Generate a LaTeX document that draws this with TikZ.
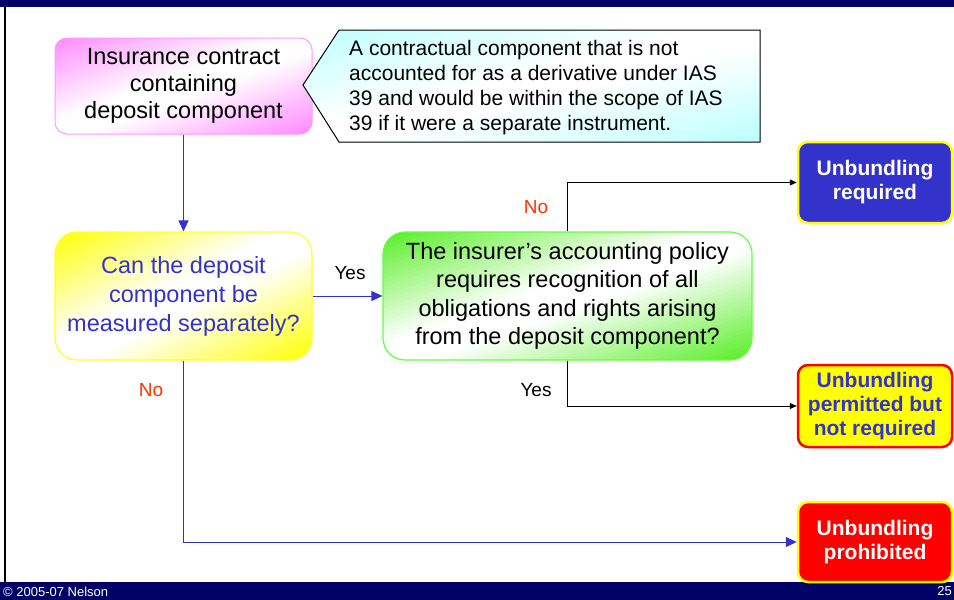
\documentclass[tikz,border=0pt]{standalone}
\usepackage{fontspec}
\setmainfont{Liberation Sans}
\usetikzlibrary{arrows.meta}
\definecolor{navy}{HTML}{000066}
\definecolor{pinkc}{HTML}{FF88FF}
\definecolor{pinkb}{HTML}{FF99FF}
\definecolor{yelc}{HTML}{FFFF00}
\definecolor{yelb}{HTML}{FFFF33}
\definecolor{grnc}{HTML}{55EE22}
\definecolor{grnb}{HTML}{66FF44}
\definecolor{cyac}{HTML}{BBFFFF}
\definecolor{bluec}{HTML}{3333CC}
\definecolor{redt}{HTML}{FF3300}
\definecolor{redc}{HTML}{FF0000}
% diagonal gradient: colour at top-left and bottom-right corners, white in the middle
% #1 colour, #2 cx, #3 cy, #4 half width, #5 half height
\newcommand\diagbands[5]{%
  \foreach \i in {0,...,59}{%
    \pgfmathsetmacro\sa{-2+\i*4/60}%
    \pgfmathsetmacro\sb{\sa+4/60+0.02}%
    \pgfmathsetmacro\tm{abs(\sa+2/60)/2}%
    \pgfmathtruncatemacro\pc{max(0,min(100,(\tm-0.12)/0.88*100))}%
    \fill[#1!\pc!white] ({#2+#4*(\sa+2)},{#3-#5*2}) -- ({#2+#4*(\sb+2)},{#3-#5*2})
       -- ({#2+#4*(\sb-2)},{#3+#5*2}) -- ({#2+#4*(\sa-2)},{#3+#5*2}) -- cycle;
  }}
\tikzset{
  flowbox/.style={align=center, inner sep=0pt},
  endbox/.style={align=center, inner sep=0pt, minimum width=154pt, rounded corners=10pt, line width=2.5pt,
    font=\fontsize{21}{24}\selectfont\bfseries},
  bluearrow/.style={draw=bluec, line width=1pt, -{Triangle[length=11pt,width=10pt]}},
  blackarrow/.style={draw=black, line width=0.9pt, -{Triangle[length=7pt,width=6pt]}},
  lbl/.style={font=\fontsize{19}{22}\selectfont, inner sep=0pt},
}
\begin{document}
\begin{tikzpicture}[x=1pt,y=-1pt]
\useasboundingbox (0,0) rectangle (954,600);
\fill[white] (0,0) rectangle (954,600);
% frame bars
\fill[navy] (0,0) rectangle (954,7);
\fill[navy] (0,582) rectangle (954,600);
\draw[black, line width=1.5pt] (5,7) -- (5,582);
\node[anchor=west, text=white, inner sep=0pt, font=\fontsize{13}{15}\selectfont] (foot) at (3,591.5) {© 2005-07 Nelson};
\node[anchor=east, text=white, inner sep=0pt, font=\fontsize{13}{15}\selectfont] (page) at (952,591.5) {25};
% gradient fills
\begin{scope}
  \clip[rounded corners=12pt, shift={(183.5,86)}] (-128.5,-48) rectangle (128.5,48);
  \diagbands{pinkc}{183.5}{86}{128.5}{48}
\end{scope}
\begin{scope}
  \clip[rounded corners=22pt, shift={(183.5,296)}] (-128.5,-64) rectangle (128.5,64);
  \diagbands{yelc}{183.5}{296}{128.5}{64}
\end{scope}
\begin{scope}
  \clip[rounded corners=22pt, shift={(567.5,296)}] (-184.5,-64) rectangle (184.5,64);
  \diagbands{grnc}{567.5}{296}{184.5}{64}
\end{scope}
% main boxes
\node[flowbox, draw=pinkb, line width=1pt, rounded corners=12pt,
  minimum width=257pt, minimum height=96pt, font=\fontsize{23.5}{27}\selectfont] (ins) at (183.5,86)
  {Insurance contract\\containing\\deposit component};
\node[flowbox, draw=yelb, line width=1.2pt, rounded corners=22pt,
  minimum width=257pt, minimum height=128pt, text=bluec, font=\fontsize{23.5}{29}\selectfont] (can) at (183.5,296)
  {Can the deposit\\component be\\measured separately?};
\node[flowbox, draw=grnb, line width=1.2pt, rounded corners=22pt,
  minimum width=369pt, minimum height=128pt, font=\fontsize{23.5}{28.5}\selectfont] (pol) at (567.5,296)
  {The insurer’s accounting policy\\requires recognition of all\\obligations and rights arising\\from the deposit component?};
% callout (drawn over the pink box)
\begin{scope}
  \clip (303,85) -- (339,30) -- (760,30) -- (760,142) -- (339,142) -- cycle;
  \diagbands{cyac}{531.5}{86}{228.5}{56}
\end{scope}
\draw[black, line width=1pt] (303,85) -- (339,30) -- (760,30) -- (760,142) -- (339,142) -- cycle;
\node[anchor=west, align=left, inner sep=0pt, font=\fontsize{21}{25}\selectfont] (def) at (349,88)
  {A contractual component that is not\\accounted for as a derivative under IAS\\39 and would be within the scope of IAS\\39 if it were a separate instrument.};
% end boxes
\node[endbox, fill=bluec, draw=yelc, text=white, minimum height=81pt] (req) at (875,182.5) {Unbundling\\required};
\node[endbox, fill=yelc, draw=redc, text=bluec, minimum height=82pt] (perm) at (875,406) {Unbundling\\permitted but\\not required};
\node[endbox, fill=redc, draw=yelc, text=white, minimum height=80pt] (proh) at (875,542) {Unbundling\\prohibited};
% connectors
\draw[bluearrow] (ins.south) -- (can.north);
\draw[bluearrow] (can.east) -- (pol.west);
\draw[blackarrow] (pol.north) |- (req.west);
\draw[blackarrow] (pol.south) |- (perm.west);
\draw[bluearrow] (can.south) |- (proh.west);
% labels
\node[lbl] (yes1) at (350,273) {Yes};
\node[lbl, text=redt] (no1) at (536,207) {No};
\node[lbl] (yes2) at (536,390) {Yes};
\node[lbl, text=redt] (no2) at (151,390) {No};
\end{tikzpicture}
\end{document}
